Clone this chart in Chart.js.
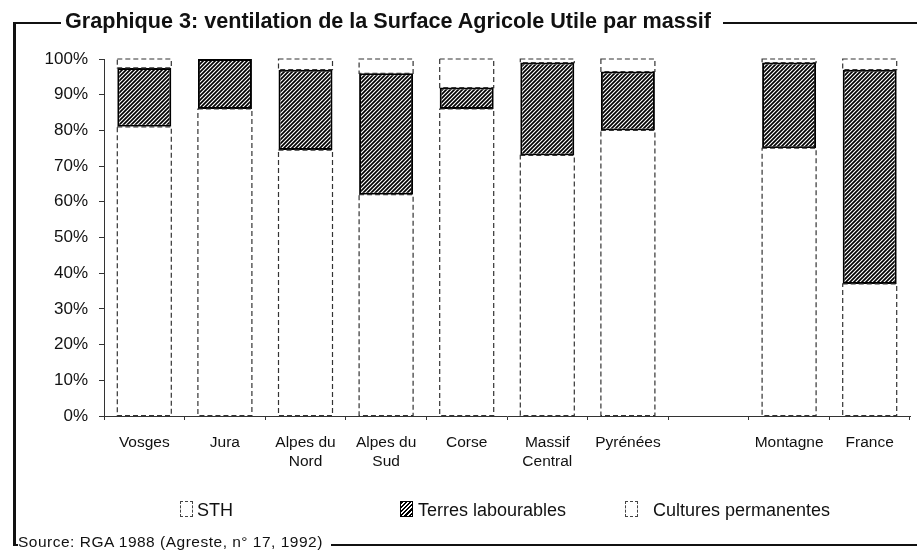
<!DOCTYPE html>
<html lang="fr">
<head>
<meta charset="utf-8">
<script src="https://cdn.jsdelivr.net/npm/chart.js@4.4.1/dist/chart.umd.min.js"></script>
<style>
  html, body { margin: 0; padding: 0; background: #fff; }
  body { width: 917px; height: 550px; position: relative; overflow: hidden; font-family: "Liberation Sans", Arial, sans-serif; color: #111; }
  #chart { position: absolute; left: 0; top: 0; }
  .line { position: absolute; background: #111; }
  #title { position: absolute; left: 65px; top: 8px; font-size: 21.6px; font-weight: bold; line-height: 26px; white-space: nowrap; }
  #source { position: absolute; left: 18px; top: 533px; font-size: 15.5px; line-height: 18px; letter-spacing: 0.5px; white-space: nowrap; }
  .leg { position: absolute; top: 499px; font-size: 18px; line-height: 22px; white-space: nowrap; }
  .box { position: absolute; top: 501px; width: 13px; height: 16px; box-sizing: border-box; }
  .dash { border: 1px dashed #444; }
  .hatch { border: 1px solid #000; background: repeating-linear-gradient(135deg, #000 0 1.6px, #fff 1.6px 3px); }
</style>
</head>
<body>
<canvas id="chart" width="917" height="550"></canvas>

<div class="line" style="left:13px;top:22px;width:3px;height:524px"></div>
<div class="line" style="left:13px;top:22px;width:48px;height:2px"></div>
<div class="line" style="left:723px;top:22px;width:194px;height:2px"></div>
<div class="line" style="left:13px;top:544px;width:5px;height:2px"></div>
<div class="line" style="left:331px;top:544px;width:586px;height:2px"></div>
<div id="title">Graphique 3: ventilation de la Surface Agricole Utile par massif</div>
<div id="source">Source: RGA 1988 (Agreste, n° 17, 1992)</div>

<div class="box dash" style="left:180px"></div><div class="leg" style="left:197px">STH</div>
<div class="box hatch" style="left:400px"></div><div class="leg" style="left:418px">Terres labourables</div>
<div class="box dash" style="left:625px"></div><div class="leg" style="left:653px">Cultures permanentes</div>

<script>
// données (en %)
const massifs = [['Vosges'], ['Jura'], ['Alpes du', 'Nord'], ['Alpes du', 'Sud'], ['Corse'], ['Massif', 'Central'], ['Pyrénées'], [''], ['Montagne'], ['France']];
const sth = [81, 86, 74.5, 62, 86, 73, 80, null, 75, 37];
const terres = [16.5, 14, 22.5, 34, 6, 26, 16.5, null, 24, 60];
const cultures = [2.5, 0, 3, 4, 8, 1, 3.5, null, 1, 3];
const yTicks = [0, 10, 20, 30, 40, 50, 60, 70, 80, 90, 100];

function makeHatch() {
    const c = document.createElement('canvas');
    c.width = 4; c.height = 4;
    const g = c.getContext('2d');
    g.fillStyle = '#fff';
    g.fillRect(0, 0, 4, 4);
    g.strokeStyle = '#000';
    g.lineWidth = 1.7;
    g.beginPath();
    g.moveTo(0, 4); g.lineTo(4, 0);
    g.moveTo(-1, 1); g.lineTo(1, -1);
    g.moveTo(3, 5); g.lineTo(5, 3);
    g.stroke();
    return g.createPattern(c, 'repeat');
}

// contours en pointillés pour STH et cultures
const dashedOutline = {
    id: 'dashedOutline',
    afterDatasetsDraw(chart) {
        const ctx = chart.ctx;
        chart.data.datasets.forEach((ds, i) => {
            if (!ds.dashed) return;
            chart.getDatasetMeta(i).data.forEach((bar, j) => {
                if (!ds.data[j]) return;
                const p = bar.getProps(['x', 'y', 'base', 'width'], true);
                ctx.save();
                ctx.setLineDash([5, 3]);
                ctx.strokeStyle = '#333';
                ctx.lineWidth = 1.2;
                ctx.strokeRect(p.x - p.width / 2, p.y, p.width, p.base - p.y);
                ctx.restore();
            });
        });
    }
};

const font = { family: '"Liberation Sans", Arial, sans-serif' };

new Chart(document.getElementById('chart').getContext('2d'), {
    type: 'bar',
    data: {
        labels: massifs,
        datasets: [
            { label: 'STH', data: sth, backgroundColor: '#fff', borderWidth: 0, dashed: true },
            { label: 'Terres labourables', data: terres, backgroundColor: makeHatch(), borderColor: '#000', borderWidth: 2, borderSkipped: false },
            { label: 'Cultures permanentes', data: cultures, backgroundColor: '#fff', borderWidth: 0, dashed: true }
        ]
    },
    options: {
        responsive: false,
        animation: false,
        layout: { padding: { top: 59, right: 7, left: 0, bottom: 0 } },
        datasets: { bar: { barPercentage: 0.67, categoryPercentage: 1 } },
        plugins: { legend: { display: false }, tooltip: { enabled: false } },
        scales: {
            x: {
                stacked: true,
                afterFit: s => { s.height = 134; },
                border: { color: '#333', width: 1, dash: [4, 3] },
                grid: { offset: true, drawOnChartArea: false, tickLength: 4, color: '#333' },
                ticks: { color: '#111', padding: 13, maxRotation: 0, autoSkip: false, font: { ...font, size: 15.5, lineHeight: 1.23 } }
            },
            y: {
                stacked: true,
                min: 0, max: 100,
                afterFit: s => { s.width = 104; },
                afterBuildTicks: s => { s.ticks = yTicks.map(v => ({ value: v })); },
                border: { color: '#333', width: 1, dash: [4, 3] },
                grid: { drawOnChartArea: false, tickLength: 5, color: '#333' },
                ticks: { color: '#111', padding: 11, callback: v => v + '%', font: { ...font, size: 17 } }
            }
        }
    },
    plugins: [dashedOutline]
});
</script>
</body>
</html>
